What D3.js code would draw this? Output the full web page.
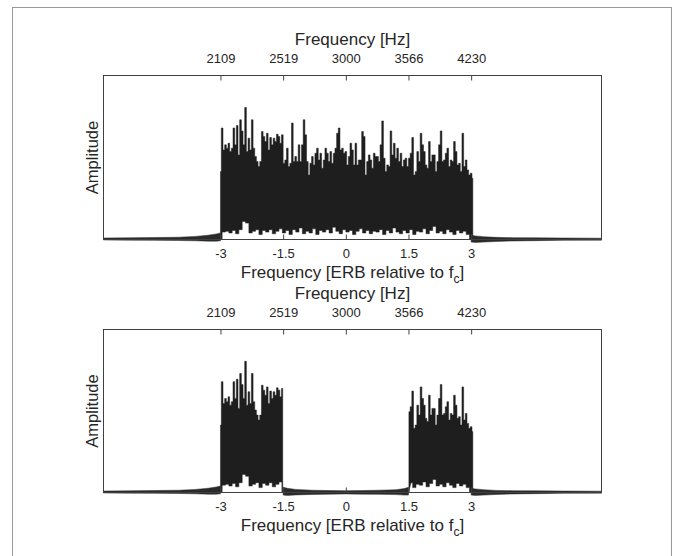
<!DOCTYPE html>
<html>
<head>
<meta charset="utf-8">
<script src="https://cdn.jsdelivr.net/npm/d3@7"></script>
<style>
  body { margin: 0; background: #fff; }
  svg text { font-family: "Liberation Sans", Arial, Helvetica, sans-serif; fill: #262626; }
</style>
</head>
<body>
<div id="chart"></div>
<script>
// tick positions (ERB re f_c) and the two label sets
const erbTicks = [-3, -1.5, 0, 1.5, 3];
const hzLabels = ['2109', '2519', '3000', '3566', '4230'];
const erbLabels = ['-3', '-1.5', '0', '1.5', '3'];
const erbDomain = [-5.8, 6.12];

// peaks of the dense trace inside the band, one every 0.04 ERB from -3
const bandStart = -3;
const erbStep = 0.04;
const peakAmp = [
  0.414, 0.68, 0.546, 0.577, 0.557, 0.587, 0.536, 0.557, 0.68, 0.577,
  0.695, 0.516, 0.73, 0.662, 0.577, 0.805, 0.536, 0.618, 0.546, 0.73,
  0.557, 0.506, 0.475, 0.445, 0.475, 0.658, 0.628, 0.597, 0.648, 0.546,
  0.622, 0.577, 0.618, 0.597, 0.642, 0.628, 0.587, 0.638, 0.465, 0.485,
  0.557, 0.445, 0.465, 0.71, 0.475, 0.506, 0.475, 0.577, 0.475, 0.577,
  0.73, 0.638, 0.475, 0.394, 0.465, 0.506, 0.455, 0.526, 0.557, 0.485,
  0.526, 0.435, 0.485, 0.557, 0.526, 0.475,
  0.536, 0.465, 0.526, 0.557, 0.648, 0.68, 0.546, 0.557, 0.526, 0.536,
  0.455, 0.506, 0.587, 0.546, 0.455, 0.587, 0.455, 0.485, 0.485, 0.658,
  0.628, 0.394, 0.475, 0.516, 0.485, 0.435, 0.526, 0.506, 0.506, 0.475,
  0.577, 0.723, 0.496, 0.414, 0.455, 0.445, 0.662, 0.516, 0.587, 0.496,
  0.557, 0.475, 0.526, 0.445, 0.485, 0.496, 0.445, 0.496, 0.526, 0.622,
  0.394, 0.414, 0.536, 0.475, 0.648, 0.577, 0.536, 0.455, 0.435, 0.597,
  0.475, 0.516, 0.516, 0.414, 0.475, 0.577, 0.662, 0.475, 0.485, 0.526,
  0.557, 0.445, 0.485, 0.475, 0.597,
  0.536, 0.455, 0.465, 0.414, 0.648, 0.445, 0.485, 0.424, 0.394, 0.404,
  0.374
];

// lower edge of the trace inside the band, one every 0.08 ERB from -3
const lowStep = 0.08;
const lowAmp = [
  0.0, 0.045, 0.05, 0.04, 0.055, 0.035, 0.06, 0.11, 0.1, 0.04,
  0.05, 0.06, 0.03, 0.055, 0.045, 0.06, 0.035, 0.05, 0.065, 0.04,
  0.055, 0.03, 0.06, 0.045, 0.07, 0.035, 0.05, 0.04, 0.065, 0.03,
  0.055, 0.045, 0.06, 0.04, 0.075, 0.05, 0.035, 0.06, 0.045, 0.055,
  0.03, 0.05, 0.065, 0.04, 0.055, 0.035, 0.05, 0.045, 0.06, 0.03,
  0.055, 0.04, 0.07, 0.045, 0.035, 0.055, 0.04, 0.06, 0.03, 0.05,
  0.045, 0.065, 0.035, 0.055, 0.08, 0.04, 0.05, 0.035, 0.06, 0.045,
  0.03, 0.055, 0.04, 0.05, 0.03, 0.0
];

// noise floor left and right of the band: upper and lower edge
const floorErbL = [-5.8, -5.2, -4.6, -4.0, -3.6, -3.3, -3.1, -3.0];
const floorHiL = [0.009, 0.010, 0.012, 0.014, 0.019, 0.026, 0.034, 0.040];
const floorLoL = [-0.003, -0.004, -0.005, -0.006, -0.008, -0.010, -0.010, -0.008];
const floorErbR = [3.0, 3.1, 3.3, 3.6, 4.0, 4.6, 5.2, 6.12];
const floorHiR = [0.026, 0.022, 0.017, 0.013, 0.011, 0.010, 0.009, 0.008];
const floorLoR = [-0.016, -0.018, -0.016, -0.012, -0.009, -0.007, -0.005, -0.004];

// lower panel: band removed between -1.5 and 1.5, only the floor is left
const notch = [-1.5, 1.5];
const notchErb = [-1.5, -1.4, -1.2, -0.8, -0.4, 0, 0.4, 0.8, 1.2, 1.4, 1.5];
const notchHi = [0.032, 0.026, 0.019, 0.014, 0.012, 0.011, 0.012, 0.014, 0.017, 0.024, 0.032];
const notchLo = [-0.016, -0.018, -0.015, -0.012, -0.010, -0.009, -0.010, -0.011, -0.013, -0.016, -0.016];

const svgWidth = 676;
const svgHeight = 556;
const left = 103.5, right = 601.5;
const panels = [
  { top: 75.5, bottom: 239.5, bands: [[-3, 3.04]], notch: false },
  { top: 329.5, bottom: 492.5, bands: [[-3, notch[0]], [notch[1], 3.04]], notch: true }
];

const svg = d3.select('#chart')
  .append('svg')
  .attr('width', svgWidth)
  .attr('height', svgHeight);

// outer figure frame
svg.append('rect')
  .attr('x', 12.5).attr('y', 7.5)
  .attr('width', 659).attr('height', 580)
  .attr('fill', '#fff')
  .attr('stroke', '#9a9a9a');

const x = d3.scaleLinear().domain(erbDomain).range([left, right]);

const peaks = peakAmp.map((a, i) => ({ erb: bandStart + i * erbStep, amp: a }));
const lows = lowAmp.map((a, i) => ({ erb: bandStart + i * lowStep, amp: a }));

panels.forEach(p => {
  const y = d3.scaleLinear().domain([0, 1]).range([p.bottom, p.top]);
  const line = d3.line().x(d => x(d.erb)).y(d => y(d.amp));
  const stepLine = d3.line().x(d => x(d.erb)).y(d => y(d.amp)).curve(d3.curveStep);
  const g = svg.append('g');

  // the dense trace as a filled outline
  p.bands.forEach(([a, b]) => {
    const up = peaks.filter(d => d.erb >= a - 1e-9 && d.erb <= b + 1e-9);
    const lo = lows.filter(d => d.erb >= a - 1e-9 && d.erb <= b + 1e-9).reverse();
    const pts = [{ erb: a, amp: 0 }, ...up, { erb: b, amp: 0 }, ...lo];
    g.append('path')
      .attr('d', stepLine(pts) + 'Z')
      .attr('fill', '#1e1e1e')
      .attr('stroke', '#1e1e1e')
      .attr('stroke-width', 0.5);
  });

  // noise floor
  const floors = [[floorErbL, floorHiL, floorLoL], [floorErbR, floorHiR, floorLoR]];
  if (p.notch) floors.push([notchErb, notchHi, notchLo]);
  floors.forEach(([e, hi, lo]) => {
    const pts = e.map((v, i) => ({ erb: v, amp: hi[i] }))
      .concat(e.map((v, i) => ({ erb: v, amp: lo[i] })).reverse());
    g.append('path')
      .attr('d', line(pts) + 'Z')
      .attr('fill', '#2a2a2a')
      .attr('stroke', '#2a2a2a')
      .attr('stroke-width', 0.5);
  });

  // axes box
  svg.append('rect')
    .attr('x', left).attr('y', p.top)
    .attr('width', right - left).attr('height', p.bottom - p.top)
    .attr('fill', 'none')
    .attr('stroke', '#404040')
    .attr('stroke-width', 1);

  // Hz axis on top, ticks pointing in
  const topAxis = svg.append('g')
    .attr('transform', `translate(0,${p.top})`)
    .call(d3.axisTop(x).tickValues(erbTicks).tickFormat((d, i) => hzLabels[i])
      .tickSizeInner(-5).tickSizeOuter(0).tickPadding(12.5));

  // ERB axis at the bottom
  const botAxis = svg.append('g')
    .attr('transform', `translate(0,${p.bottom})`)
    .call(d3.axisBottom(x).tickValues(erbTicks).tickFormat((d, i) => erbLabels[i])
      .tickSizeInner(-5).tickSizeOuter(0).tickPadding(9.5));

  [topAxis, botAxis].forEach(ax => {
    ax.select('.domain').remove();
    ax.selectAll('line').attr('stroke', '#404040');
    ax.selectAll('text')
      .style('font-size', '13px')
      .style('font-family', '"Liberation Sans", Arial, sans-serif')
      .attr('fill', '#262626');
  });

  const mid = (left + right) / 2;

  svg.append('text')
    .attr('x', mid).attr('y', p.top - 36)
    .attr('dy', '0.35em')
    .attr('text-anchor', 'middle')
    .style('font-size', '17px')
    .text('Frequency [Hz]');

  const lab = svg.append('text')
    .attr('x', mid).attr('y', p.bottom + 33)
    .attr('dy', '0.35em')
    .attr('text-anchor', 'middle')
    .style('font-size', '17px');
  lab.append('tspan').text('Frequency [ERB relative to f');
  lab.append('tspan').attr('dy', 5).style('font-size', '12px').text('c');
  lab.append('tspan').attr('dy', -5).text(']');

  svg.append('text')
    .attr('transform', `translate(92.5,${(p.top + p.bottom) / 2}) rotate(-90)`)
    .attr('dy', '0.35em')
    .attr('text-anchor', 'middle')
    .style('font-size', '16.5px')
    .text('Amplitude');
});
</script>
</body>
</html>
